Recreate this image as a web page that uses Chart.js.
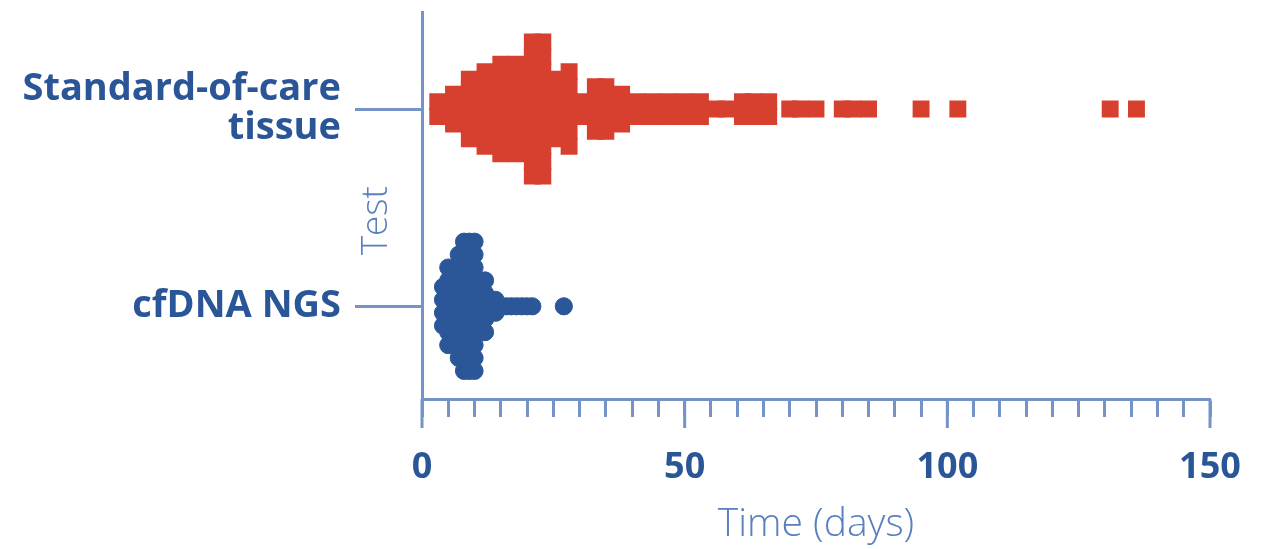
<!DOCTYPE html>
<html>
<head>
<meta charset="utf-8">
<script src="https://cdn.jsdelivr.net/npm/chart.js@4.4.0/dist/chart.umd.min.js"></script>
<style>
html, body { margin: 0; padding: 0; background: #fff; }
#wrap { width: 1263px; height: 549px; }
</style>
</head>
<body>
<div id="wrap"><canvas id="myChart"></canvas></div>
<script>
// y = 0 -> cfDNA NGS, y = 1 -> Standard-of-care tissue
const categories = ['cfDNA NGS', ['Standard-of-care', 'tissue']];

const tissueDays   = [3, 6, 9, 12, 15, 18, 21, 23, 25, 28, 31, 33, 35, 38, 41, 44, 47, 50, 53, 56, 58, 61, 63, 66, 70, 72, 75, 80, 82, 85, 95, 102, 131, 136];
const tissueCounts = [2, 3, 5, 6, 7, 7, 10, 10, 5, 6, 2, 4, 4, 3, 2, 2, 2, 2, 2, 1, 1, 2, 2, 2, 1, 1, 1, 1, 1, 1, 1, 1, 1, 1];

const cfdnaDays   = [4, 5, 6, 7, 8, 9, 10, 11, 12, 13, 14, 16, 17, 18, 19, 20, 21, 27];
const cfdnaCounts = [4, 7, 7, 9, 11, 11, 11, 5, 5, 2, 2, 1, 1, 1, 1, 1, 1, 1];

const xTickLabels = [0, 50, 100, 150];

const [RED, BLUE, TEXT_BLUE, AXIS_BLUE, TITLE_BLUE] = ['#d7402f', '#2b5799', '#2a5597', '#7593c6', '#5a7fbf'];

const Y_MIN = -0.47, Y_MAX = 1.49;
const PLOT_HEIGHT = 389;
const pxToY = px => px * (Y_MAX - Y_MIN) / PLOT_HEIGHT;

// stack equal values vertically round the category line
function stack(days, counts, category, stepPx) {
    const pts = [];
    days.forEach((d, i) => {
        const n = counts[i];
        for (let k = 0; k < n; k++) {
            pts.push({ x: d, y: category + pxToY((k - (n - 1) / 2) * stepPx) });
        }
    });
    return pts;
}

const majorTicks = {
    id: 'majorTicks',
    afterDraw(chart) {
        const x = chart.scales.x;
        const ctx = chart.ctx;
        ctx.save();
        ctx.strokeStyle = AXIS_BLUE;
        ctx.lineWidth = 3;
        xTickLabels.forEach(v => {
            const px = x.getPixelForValue(v);
            ctx.beginPath();
            ctx.moveTo(px, x.top);
            ctx.lineTo(px, x.top + 29);
            ctx.stroke();
        });
        ctx.restore();
    }
};

const yTitle = {
    id: 'yTitle',
    afterDraw(chart) {
        const y = chart.scales.y;
        const ctx = chart.ctx;
        const area = chart.chartArea;
        ctx.save();
        ctx.translate(y.right - 46, (area.top + area.bottom) / 2 + 15);
        ctx.rotate(-Math.PI / 2);
        ctx.textAlign = 'center';
        ctx.textBaseline = 'middle';
        ctx.font = '300 37px "Open Sans"';
        ctx.fillStyle = TITLE_BLUE;
        ctx.fillText('Test', 0, 0);
        ctx.restore();
    }
};

const data = {
    datasets: [
        {
            label: 'Standard-of-care tissue',
            data: stack(tissueDays, tissueCounts, 1, 15),
            pointStyle: 'rect',
            pointRadius: 10.9,
            pointBorderWidth: 1.5,
            backgroundColor: RED,
            borderColor: RED,
        },
        {
            label: 'cfDNA NGS',
            data: stack(cfdnaDays, cfdnaCounts, 0, 13),
            pointStyle: 'circle',
            pointRadius: 8.6,
            pointBorderWidth: 1,
            backgroundColor: BLUE,
            borderColor: BLUE,
        },
    ]
};

const config = {
    type: 'scatter',
    data: data,
    plugins: [majorTicks, yTitle],
    options: {
        responsive: true,
        maintainAspectRatio: false,
        animation: false,
        layout: { padding: { top: 10, right: 53, bottom: 0, left: 0 } },
        scales: {
            x: {
                type: 'linear',
                min: 0,
                max: 150,
                border: { display: true, color: AXIS_BLUE, width: 3 },
                grid: {
                    drawOnChartArea: false,
                    tickLength: 18,
                    tickWidth: 3,
                    tickColor: AXIS_BLUE,
                },
                ticks: {
                    stepSize: 5,
                    autoSkip: false,
                    maxRotation: 0,
                    padding: 29,
                    color: TEXT_BLUE,
                    font: { family: 'Open Sans', weight: 'bold', size: 36, lineHeight: 1.2 },
                    callback: v => xTickLabels.includes(v) ? String(v) : '',
                },
                title: {
                    display: true,
                    text: 'Time (days)',
                    color: TITLE_BLUE,
                    font: { family: 'Open Sans', weight: 300, size: 39 },
                    padding: { top: 0, bottom: 1 },
                },
                afterFit(s) {
                    s.height = 150;
                    s.paddingLeft = 0;
                    s.paddingRight = 0;
                },
            },
            y: {
                type: 'linear',
                min: Y_MIN,
                max: Y_MAX,
                afterBuildTicks(s) {
                    s.ticks = [{ value: 0 }, { value: 1 }];
                },
                border: { display: true, color: AXIS_BLUE, width: 3 },
                grid: {
                    drawOnChartArea: false,
                    tickLength: 67,
                    tickWidth: 3,
                    tickColor: AXIS_BLUE,
                },
                ticks: {
                    padding: 14,
                    color: TEXT_BLUE,
                    font: { family: 'Open Sans', weight: 'bold', size: 38, lineHeight: 1.03 },
                    callback: v => categories[v],
                },
                afterFit(s) {
                    s.width = 422;
                    s.paddingTop = 0;
                    s.paddingBottom = 0;
                },
            },
        },
        plugins: {
            legend: { display: false },
            tooltip: { enabled: false },
        }
    }
};

const ctx = document.getElementById('myChart').getContext('2d');
new Chart(ctx, config);
</script>
</body>
</html>
